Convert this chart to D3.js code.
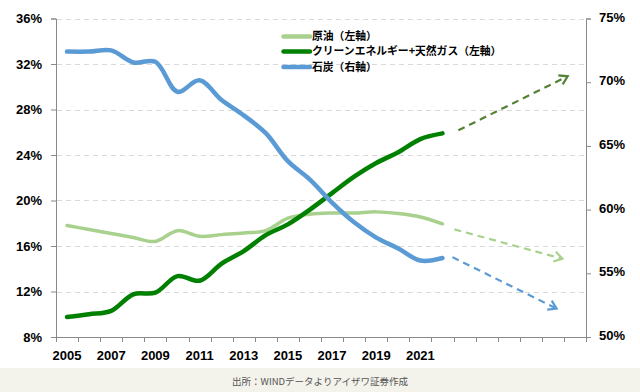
<!DOCTYPE html>
<html><head><meta charset="utf-8">
<script src="https://cdn.jsdelivr.net/npm/d3@7"></script>
<style>
html,body{margin:0;padding:0;background:#fff;}
svg{display:block;}
</style></head>
<body>
<svg id="chart" width="640" height="392"></svg>
<script>
// ---- data ----
const categories = d3.range(2005, 2029).map(String); // 2005..2028
const tickLabels = ["2005","2007","2009","2011","2013","2015","2017","2019","2021"];
const dataYears = d3.range(2005, 2023);
const oil   = [17.8,17.45,17.1,16.75,16.4,17.35,16.85,17.0,17.15,17.35,18.45,18.8,18.9,18.9,19.0,18.85,18.55,17.95];
const clean = [9.75,10.0,10.3,11.75,11.9,13.35,12.95,14.45,15.55,16.95,17.9,19.2,20.65,22.1,23.3,24.25,25.4,25.9];
const coal  = [72.4,72.4,72.5,71.55,71.6,69.25,70.15,68.6,67.4,66.0,63.8,62.35,60.55,59.0,57.8,56.95,56.0,56.2];
const leftTicks  = [8,12,16,20,24,28,32,36];
const rightTicks = [50,55,60,65,70,75];
const seriesNames = ["原油（左軸）","クリーンエネルギー+天然ガス（左軸）","石炭（右軸）"];
const seriesColors = ["#a9d18e","#008000","#5b9bd5"];
// forecast arrows: [year position, value] start/end
const arrowOil   = [[2022.54,17.46],[2027.43,14.88]];
const arrowClean = [[2022.72,26.17],[2027.67,30.92]];
const arrowCoal  = [[2022.45,56.27],[2027.17,52.23]];
const arrowColors = ["#a9d18e","#548235","#5b9bd5"];
const sourceText = "出所：WINDデータよりアイザワ証券作成";

// ---- layout ----
const svg = d3.select("#chart");
const L = 56, R = 586, T = 18.5, B = 337;

const x = d3.scaleBand().domain(categories).range([L, R]).paddingInner(0).paddingOuter(0);
const xPos = d3.scaleLinear().domain([2005 - 0.5, 2028 + 0.5]).range([L, R]);
const yL = d3.scaleLinear().domain([8, 36]).range([B, T]);
const yR = d3.scaleLinear().domain([50, 75]).range([B, T]);

// footer band
svg.append("rect").attr("x",0).attr("y",368).attr("width",640).attr("height",24).attr("fill","#f3f2eb");
svg.append("text").attr("x",320).attr("y",384.5).attr("text-anchor","middle")
  .attr("font-family","'Noto Sans CJK JP', sans-serif").attr("font-size",9.5).attr("fill","#555")
  .text(sourceText);

// gridlines
svg.append("g").selectAll("line").data(leftTicks.filter(d=>d>8)).join("line")
  .attr("x1",L+1).attr("x2",R).attr("y1",d=>Math.round(yL(d))+0.5).attr("y2",d=>Math.round(yL(d))+0.5)
  .attr("stroke","#d9d9d9").attr("stroke-width",1).attr("stroke-dasharray","5,4");

// axes
const axisFont = "'Liberation Sans', Arial, sans-serif";
function styleAxis(g){
  g.selectAll(".domain").attr("stroke","#898989");
  g.selectAll(".tick line").attr("stroke","#898989");
  g.selectAll("text").attr("font-family",axisFont).attr("font-weight","bold").attr("font-size",13).attr("fill","#000");
}
const gl = svg.append("g").attr("transform",`translate(${L},0)`)
  .call(d3.axisLeft(yL).tickValues(leftTicks).tickFormat(d=>d+"%").tickSizeOuter(0).tickSize(5).tickPadding(9));
styleAxis(gl);
const gr = svg.append("g").attr("transform",`translate(${R},0)`)
  .call(d3.axisRight(yR).tickValues(rightTicks).tickFormat(d=>d+"%").tickSizeOuter(0).tickSize(5).tickPadding(8));
styleAxis(gr);
gr.selectAll("text").attr("dy","0.2em");

// x axis: ticks at band boundaries
const gx = svg.append("g").attr("transform",`translate(0,${B})`);
gx.append("line").attr("x1",L).attr("x2",R+1).attr("y1",0.5).attr("y2",0.5).attr("stroke","#898989");
const bounds = categories.map(c=>x(c)).concat([R]);
gx.selectAll("line.tk").data(bounds).join("line").attr("class","tk")
  .attr("x1",d=>Math.round(d)+0.5).attr("x2",d=>Math.round(d)+0.5).attr("y1",0).attr("y2",5)
  .attr("stroke","#898989");
gx.selectAll("text").data(tickLabels).join("text")
  .attr("x",d=>x(d)+x.bandwidth()/2).attr("y",23)
  .attr("text-anchor","middle").attr("font-family",axisFont).attr("font-weight","bold")
  .attr("font-size",13).attr("fill","#000").text(d=>d);

// lines
const curve = d3.curveCatmullRom.alpha(0.5);
const cx = (i)=>x(String(dataYears[i]))+x.bandwidth()/2;
const lineL = d3.line().x((d,i)=>cx(i)).y(d=>yL(d)).curve(curve);
const lineR = d3.line().x((d,i)=>cx(i)).y(d=>yR(d)).curve(curve);
svg.append("path").attr("d",lineL(oil)).attr("fill","none").attr("stroke",seriesColors[0]).attr("stroke-width",3.5).attr("stroke-linecap","round");
svg.append("path").attr("d",lineL(clean)).attr("fill","none").attr("stroke",seriesColors[1]).attr("stroke-width",4.5).attr("stroke-linecap","round");
svg.append("path").attr("d",lineR(coal)).attr("fill","none").attr("stroke",seriesColors[2]).attr("stroke-width",4.5).attr("stroke-linecap","round");

// arrows
const defs = svg.append("defs");
arrowColors.forEach((c,i)=>{
  defs.append("marker").attr("id","ah"+i).attr("viewBox","0 0 12 12").attr("refX",10).attr("refY",6)
    .attr("markerWidth",12).attr("markerHeight",12).attr("markerUnits","userSpaceOnUse").attr("orient","auto")
    .append("path").attr("d","M2,1 L10,6 L2,11").attr("fill","none").attr("stroke",c).attr("stroke-width",2.2);
});
const arrows = [[arrowOil,yL,0],[arrowClean,yL,1],[arrowCoal,yR,2]];
arrows.forEach(([a,ys,i])=>{
  svg.append("line").attr("x1",xPos(a[0][0])).attr("y1",ys(a[0][1]))
    .attr("x2",xPos(a[1][0])).attr("y2",ys(a[1][1]))
    .attr("stroke",arrowColors[i]).attr("stroke-width",2.2).attr("stroke-dasharray","7,5")
    .attr("marker-end",`url(#ah${i})`);
});

// legend
const legY = [36.5,51.5,67];
const lg = svg.append("g");
seriesNames.forEach((n,i)=>{
  lg.append("line").attr("x1",283.5).attr("x2",310).attr("y1",legY[i]).attr("y2",legY[i])
    .attr("stroke",seriesColors[i]).attr("stroke-width",4.5).attr("stroke-linecap","round");
  lg.append("text").attr("x",312).attr("y",legY[i]).attr("dy","0.36em")
    .attr("font-family","'Noto Sans CJK JP', sans-serif").attr("font-weight","bold").attr("font-size",10.8)
    .attr("fill","#000").text(n);
});
</script>
</body></html>
